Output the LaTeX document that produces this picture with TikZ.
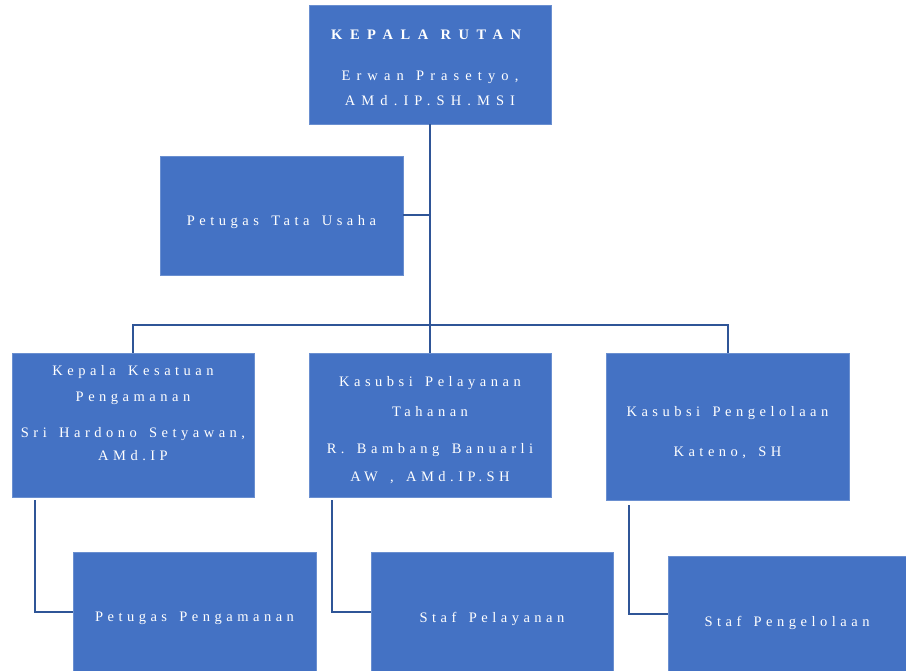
\documentclass[tikz,border=0pt]{standalone}
\usepackage{fontspec}
\setmainfont{Liberation Serif}[LetterSpace=31]
\newcommand{\ws}{\hspace{0.85em}}
\newcommand{\wideA}{\addfontfeature{LetterSpace=52}}
\newcommand{\wideB}{\addfontfeature{LetterSpace=42}}
\definecolor{boxblue}{HTML}{4472C4}
\definecolor{boxedge}{HTML}{6A8FD0}
\definecolor{linecol}{HTML}{2F5597}
\tikzset{
  orgbox/.style={fill=boxblue,draw=boxedge,line width=0.6pt,inner sep=0pt},
  boxtext/.style={inner sep=0pt,align=center,text=white,font=\fontsize{14.5}{25}\selectfont},
  link/.style={draw=linecol,line width=2pt}
}
\begin{document}
\begin{tikzpicture}[x=1pt,y=-1pt]
\useasboundingbox (0,0) rectangle (906,671);
\node[orgbox,minimum width=242pt,minimum height=119pt] (top) at (430,64.5) {};
\node[orgbox,minimum width=243pt,minimum height=119pt] (tu) at (281.5,215.5) {};
\node[orgbox,minimum width=242pt,minimum height=144pt] (r2l) at (133,425) {};
\node[orgbox,minimum width=242pt,minimum height=144pt] (r2m) at (430,425) {};
\node[orgbox,minimum width=243pt,minimum height=147pt] (r2r) at (727.5,426.5) {};
\node[orgbox,minimum width=243pt,minimum height=119pt] (b1) at (194.5,611.5) {};
\node[orgbox,minimum width=242pt,minimum height=119pt] (b2) at (492,611.5) {};
\node[orgbox,minimum width=238pt,minimum height=115pt] (b3) at (787,613.5) {};
% texts
\node[boxtext] (topt) at ([yshift=-3.5pt]top.center)
  {{\wideA\textbf{KEPALA\ws RUTAN}}\\[16pt]{\wideB Erwan\ws Prasetyo,}\\{\wideB AMd.IP.SH.MSI}};
\node[boxtext] (tut) at ([yshift=-7pt]tu.center) {Petugas\ws Tata\ws Usaha};
\node[boxtext] (r2lt) at ([yshift=11.5pt]r2l.center)
  {Kepala\ws Kesatuan\\[1pt]Pengamanan\\[11pt]Sri\ws Hardono\ws Setyawan,\\[-2pt]AMd.IP};
\node[boxtext] (r2mt) at ([yshift=-5.5pt]r2m.center)
  {Kasubsi\ws Pelayanan\\[5pt]Tahanan\\[12pt]R.\ws Bambang\ws Banuarli\\[3pt]AW\ws,\ws AMd.IP.SH};
\node[boxtext] (r2rt) at ([yshift=-6.5pt]r2r.center) {Kasubsi\ws Pengelolaan\\[15pt]Kateno,\ws SH};
\node[boxtext] (b1t) at ([yshift=-7pt]b1.center) {Petugas\ws Pengamanan};
\node[boxtext] (b2t) at ([yshift=-7pt]b2.center) {Staf\ws Pelayanan};
\node[boxtext] (b3t) at ([yshift=-9pt]b3.center) {Staf\ws Pengelolaan};
% connectors
\draw[link] (top.south) -- (r2m.north);
\draw[link] (r2l.north) -- ++(0,-28) -| (r2r.north);
\draw[link] (tu.east) -- (tu.east -| top.south);
\draw[link] (r2l.south west) ++(23,3) |- (b1.west);
\draw[link] (r2m.south west) ++(23,3) |- (b2.west);
\draw[link] (r2r.south west) ++(23,5) |- (b3.west);
\end{tikzpicture}
\end{document}
